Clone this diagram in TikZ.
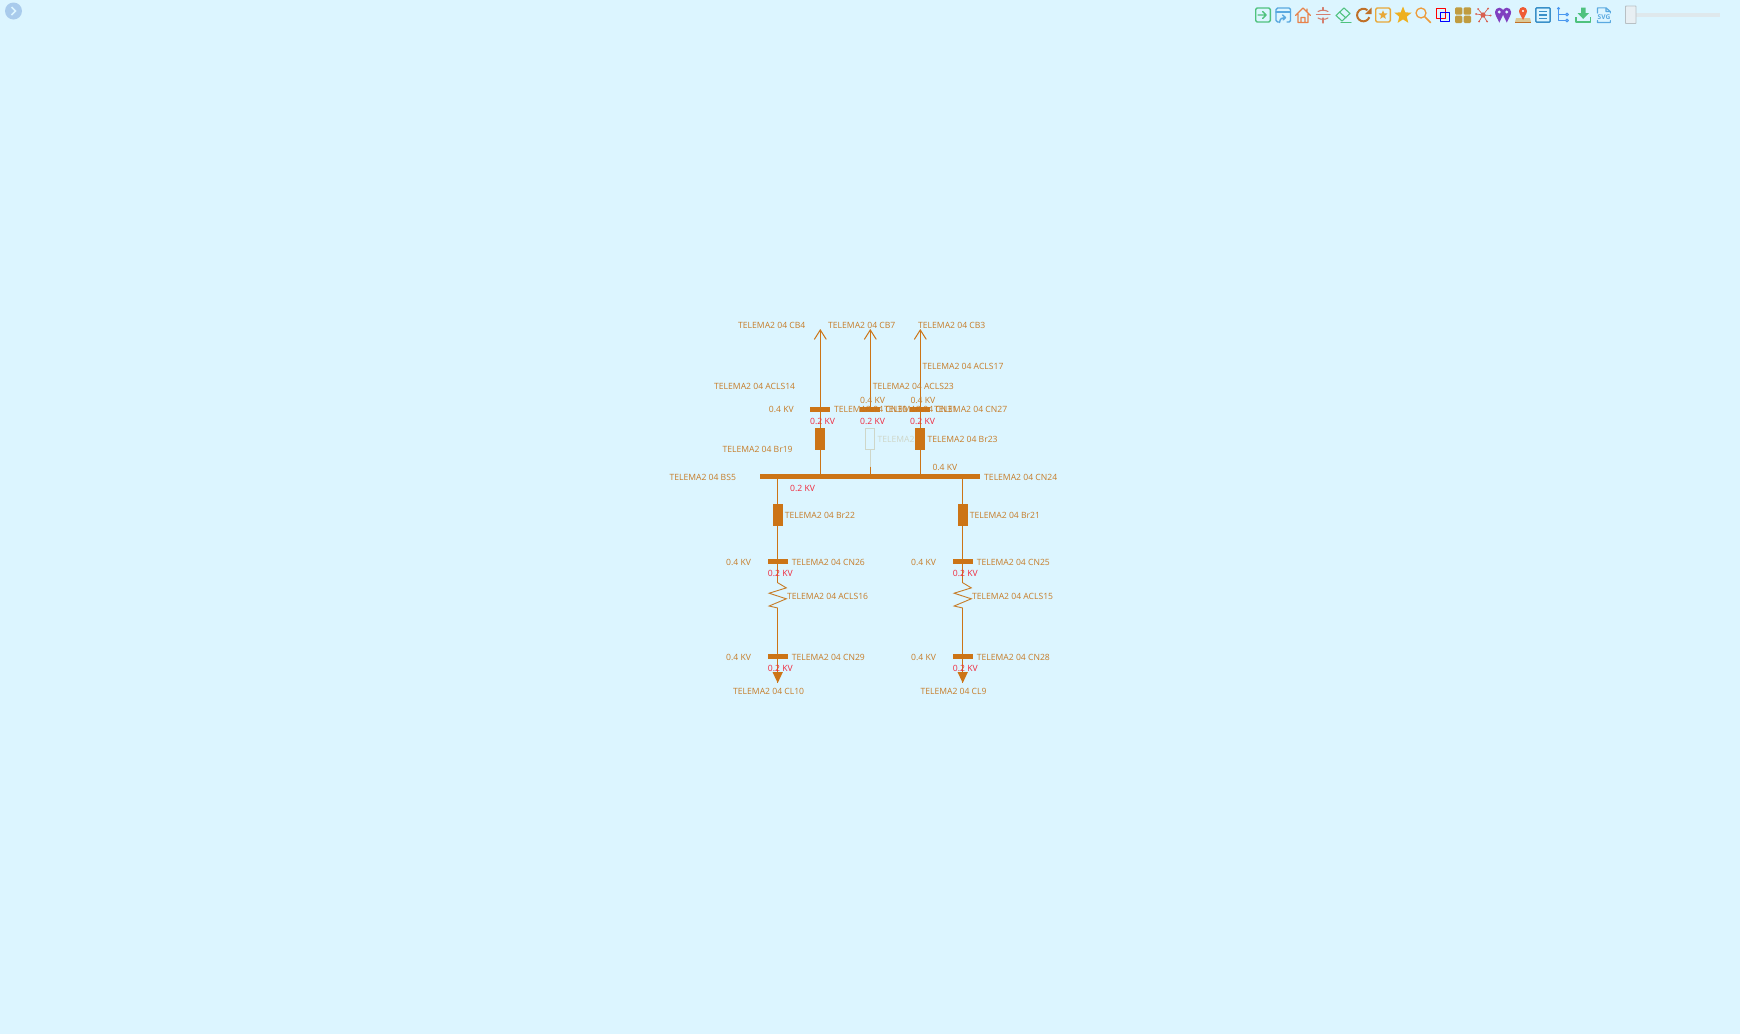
\documentclass[tikz,border=0pt]{standalone}
\usepackage{fontspec}
\setmainfont{Open Sans}
\usetikzlibrary{arrows.meta,shapes.geometric}
\definecolor{bgc}{HTML}{DCF5FF}
\definecolor{eq}{HTML}{CC7416}
\definecolor{lab}{HTML}{C67C28}
\definecolor{volt}{HTML}{F0283C}
\definecolor{pale}{HTML}{CFD6C8}
\definecolor{igreen}{HTML}{4FC27E}
\definecolor{iblue}{HTML}{5AA9E0}
\definecolor{iorange}{HTML}{E8824A}
\definecolor{ipink}{HTML}{D47F70}
\definecolor{ibrown}{HTML}{C07028}
\definecolor{iamber}{HTML}{E8A838}
\definecolor{igold}{HTML}{EEB020}
\definecolor{igrid}{HTML}{C09C40}
\definecolor{ired}{HTML}{D86050}
\definecolor{ipurple}{HTML}{8040C0}
\definecolor{idblue}{HTML}{3A90C8}
\definecolor{itree}{HTML}{4A98F0}
\definecolor{btn}{HTML}{A9CBEC}
\definecolor{track}{HTML}{DFE8EC}
\definecolor{knob}{HTML}{E8EFF3}
\definecolor{knobline}{HTML}{B8C0C4}
\tikzset{
  x=1pt,y=-1pt,
  txt/.style={inner sep=0pt,anchor=west,yshift=-.4pt,font=\fontsize{8.6}{11}\selectfont,text=lab},
  kv/.style={txt},
  redkv/.style={txt,text=volt},
  feeder/.style={draw=eq,line width=1.2pt},
  barnode/.style={fill=eq,inner sep=0pt,minimum width=20pt,minimum height=4.8pt},
  brk/.style={fill=eq,inner sep=0pt,minimum width=10pt,minimum height=22pt},
  ico/.style={line width=1.4pt,line cap=round,line join=round},
}
\newcommand{\lbl}[5][txt]{\node[#1] (#2) at (#3,#4) {#5};}
\begin{document}
\begin{tikzpicture}
\useasboundingbox (0,0) rectangle (1740,1034);
\fill[bgc] (0,0) rectangle (1740,1034);
% expand button
\fill[btn] (13.5,11) circle (8.5);
\draw[bgc,line width=1.6pt] (11.5,7) -- (15.5,11) -- (11.5,15);

% equipment
\node[barnode,minimum width=220pt,minimum height=5pt] (bus) at (870,476.5) {};
\node[barnode] (cnA) at (820.3,409.3) {};
\node[barnode] (cnB) at (870.3,409.3) {};
\node[barnode] (cnC) at (920.3,409.3) {};
\node[brk] (brA) at (820.3,439) {};
\node[draw=pale,line width=.9pt,inner sep=0pt,minimum width=9pt,minimum height=21.5pt] (brB) at (870.3,439) {};
\node[brk] (brC) at (920.3,439) {};
\coordinate (tipA) at (820.3,329);
\coordinate (tipB) at (870.3,329);
\coordinate (tipC) at (920.3,329);
\draw[feeder,-{Straight Barb[length=9.5pt,width=12pt,line width=1pt]}] (cnA) -- (tipA);
\draw[feeder,-{Straight Barb[length=9.5pt,width=12pt,line width=1pt]}] (cnB) -- (tipB);
\draw[feeder,-{Straight Barb[length=9.5pt,width=12pt,line width=1pt]}] (cnC) -- (tipC);
\draw[feeder] (cnA) -- (brA);
\draw[feeder] (cnC) -- (brC);
\draw[feeder] (brA) -- (bus.north -| brA);
\draw[feeder] (brC) -- (bus.north -| brC);
\draw[draw=pale,line width=1.1pt] (brB.south) -- (870.3,466.7) coordinate (fadeB);
\draw[feeder] (fadeB) -- (bus.north -| fadeB);

\node[brk] (brL) at (777.7,515) {};
\node[brk] (brR) at (962.7,515) {};
\node[barnode] (cnL1) at (777.7,561.6) {};
\node[barnode] (cnR1) at (962.7,561.6) {};
\node[barnode] (cnL2) at (777.7,656.6) {};
\node[barnode] (cnR2) at (962.7,656.6) {};
\draw[feeder] (bus.south -| brL) -- (brL);
\draw[feeder] (bus.south -| brR) -- (brR);
\draw[feeder] (brL) -- (cnL1);
\draw[feeder] (brR) -- (cnR1);
\foreach \n/\x in {L/777.7,R/962.7}{
  \coordinate (zt\n) at (\x,582.7);
  \coordinate (zb\n) at (\x,608);
  \coordinate (tri\n) at (\x,683);
  \draw[feeder] (cn\n1) -- (zt\n);
  \draw[draw=lab,line width=.9pt,line join=miter] (zt\n) -- ++(8.6,5.2) -- ++(-17.2,5.3) -- ++(17.2,5.6) -- ++(-17.2,7.2) -- (zb\n);
  \draw[feeder] (zb\n) -- (cn\n2);
  \draw[feeder] (cn\n2) -- (tri\n);
  \fill[eq] (tri\n) -- ++(-5.2,-11) -- ++(10.4,0) -- cycle;
}

% labels
\lbl{lCBa}{738}{325}{TELEMA2 04 CB4}
\lbl{lCBb}{828}{325}{TELEMA2 04 CB7}
\lbl{lCBc}{918}{325}{TELEMA2 04 CB3}
\lbl{lAc}{922.3}{365.7}{TELEMA2 04 ACLS17}
\lbl{lAa}{714}{385.7}{TELEMA2 04 ACLS14}
\lbl{lAb}{872.7}{385.7}{TELEMA2 04 ACLS23}
\lbl{kAu}{768.7}{409.5}{0.4 KV}
\lbl{kBu}{860}{399.8}{0.4 KV}
\lbl{kCu}{910.3}{399.8}{0.4 KV}
\lbl{lCNa}{834}{409.5}{TELEMA2 04 CN30}
\lbl{lCNb}{884}{409.5}{TELEMA2 04 CN31}
\lbl{lCNc}{934}{409.5}{TELEMA2 04 CN27}
\lbl[redkv]{kAd}{810}{420.7}{0.2 KV}
\lbl[redkv]{kBd}{860}{420.7}{0.2 KV}
\lbl[redkv]{kCd}{910}{420.7}{0.2 KV}
\lbl{lBa}{722.3}{448.8}{TELEMA2 04 Br19}
\lbl[txt,text=pale]{lBb}{877.3}{438.7}{TELEMA2}
\lbl{lBc}{927.3}{438.7}{TELEMA2 04 Br23}
\lbl{kBus}{932.3}{466.7}{0.4 KV}
\lbl{lBS}{669.3}{476.7}{TELEMA2 04 BS5}
\lbl{lCNbus}{984}{476.7}{TELEMA2 04 CN24}
\lbl[redkv]{kBusd}{790}{487.7}{0.2 KV}
\lbl{lBL}{784.7}{514.7}{TELEMA2 04 Br22}
\lbl{lBR}{969.7}{514.7}{TELEMA2 04 Br21}
\lbl{kL1}{726}{561.7}{0.4 KV}
\lbl{kR1}{911}{561.7}{0.4 KV}
\lbl{lL1}{791.7}{561.7}{TELEMA2 04 CN26}
\lbl{lR1}{976.7}{561.7}{TELEMA2 04 CN25}
\lbl[redkv]{kL1d}{767.7}{572.7}{0.2 KV}
\lbl[redkv]{kR1d}{952.7}{572.7}{0.2 KV}
\lbl{lZL}{787}{595.6}{TELEMA2 04 ACLS16}
\lbl{lZR}{972}{595.6}{TELEMA2 04 ACLS15}
\lbl{kL2}{726}{656.7}{0.4 KV}
\lbl{kR2}{911}{656.7}{0.4 KV}
\lbl{lL2}{791.7}{656.7}{TELEMA2 04 CN29}
\lbl{lR2}{976.7}{656.7}{TELEMA2 04 CN28}
\lbl[redkv]{kL2d}{767.7}{667.7}{0.2 KV}
\lbl[redkv]{kR2d}{952.7}{667.7}{0.2 KV}
\lbl{lCL}{733}{690.8}{TELEMA2 04 CL10}
\lbl{lCR}{920.3}{690.8}{TELEMA2 04 CL9}

% toolbar
\begin{scope}[ico]
% 1 exit
\draw[igreen,rounded corners=1.5pt] (1255.7,8) rectangle (1270.3,22);
\draw[igreen] (1258,15) -- (1266,15) (1262.5,11.5) -- (1266,15) -- (1262.5,18.5);
% 2 window upload
\draw[iblue,rounded corners=1.5pt] (1279,22) -- (1276,22) -- (1276,8) -- (1290.5,8) -- (1290.5,22) -- (1287,22);
\draw[iblue] (1276,12) -- (1290.5,12);
\draw[iblue] (1279.5,22.5) .. controls (1280,18.5) and (1282,17.5) .. (1285,17.5) (1282.5,15) -- (1285.5,17.5) -- (1283,20);
% 3 home
\draw[iorange,line width=1.1pt] (1295.5,15.5) -- (1303,8) -- (1310.5,15.5) (1298,14) -- (1298,22.5) -- (1308,22.5) -- (1308,14) (1301,22.5) -- (1301,17.5) -- (1305,17.5) -- (1305,22.5) (1307,9) -- (1307,11.5);
% 4 split
\draw[ipink,line width=1.1pt] (1323,7.5) -- (1323,10.5) (1323,18) -- (1323,23) (1316.5,14.5) -- (1330,14.5);
\draw[ipink,line width=1.1pt] (1318,11.5) .. controls (1321,9.8) and (1325,9.8) .. (1328,11.5);
\draw[ipink,line width=1.1pt] (1318,18) .. controls (1321,19.8) and (1325,19.8) .. (1328,18);
% 5 eraser
\draw[igreen,line width=1.1pt] (1336,15.5) -- (1344,8) -- (1350,13.5) -- (1342,21) -- cycle (1339.5,12) -- (1346,18);
\draw[igreen,line width=1.1pt] (1341,22.3) -- (1351,22.3);
% 6 refresh
\draw[ibrown,line width=2pt,line cap=butt] (1369.3,17.2) arc[start angle=20,end angle=310,radius=6.3];
\fill[ibrown] (1371.5,7.5) -- (1371.5,14) -- (1365,14) -- cycle;
% 7 star box
\draw[iamber,rounded corners=1.5pt] (1375.7,8) rectangle (1390.3,22);
\node[star,star points=5,star point ratio=2.3,fill=iamber,inner sep=0pt,minimum size=9.5pt] (icoStarA) at (1383,15) {};
% 8 star
\node[star,star points=5,star point ratio=2.3,fill=igold,inner sep=0pt,minimum size=18pt] (icoStarB) at (1403,15.5) {};
% 9 search
\draw[iorange!80!yellow,line width=1.3pt] (1421,13) circle (5);
\draw[iorange!80!yellow,line width=1.6pt] (1425,17) -- (1430.5,22.5);
% 10 squares
\draw[red,line width=1pt,line cap=butt] (1436.5,8.5) rectangle (1445.5,18.5);
\draw[blue,line width=1pt,line cap=butt] (1440.5,12) rectangle (1449.8,21.5);
% 11 grid
\fill[igrid,rounded corners=1.2pt] (1455,7.3) rectangle (1462.3,14.7);
\fill[igrid,rounded corners=1.2pt] (1463.7,7.3) rectangle (1471,14.7);
\fill[igrid,rounded corners=1.2pt] (1455,15.7) rectangle (1462.3,23);
\fill[igrid,rounded corners=1.2pt] (1463.7,15.7) rectangle (1471,23);
% 12 network
\draw[ired,line width=.7pt] (1483,15) -- (1476,14) (1483,15) -- (1478,9) (1483,15) -- (1488,8.5) (1483,15) -- (1490.5,15.5) (1483,15) -- (1479,21.5) (1483,15) -- (1487,21.5);
\fill[ired] (1483,15) circle (2.6) (1476,14) circle (1) (1478,9) circle (1) (1488,8.5) circle (1) (1490.5,15.5) circle (1) (1479,21.5) circle (1) (1487,21.5) circle (1);
% 13 pins
\foreach \x in {1499.3,1506.8}{
  \fill[ipurple] (\x,22.7) .. controls (\x-1.5,18.5) and (\x-4.3,15.5) .. (\x-4.3,12) arc[start angle=180,end angle=360,radius=4.3] .. controls (\x+4.3,15.5) and (\x+1.5,18.5) .. (\x,22.7) -- cycle;
  \fill[bgc] (\x,12) circle (1.6);
}
% 14 map
\fill[igrid!55!white] (1516,18) -- (1530,18) -- (1531,22) -- (1515,22) -- cycle;
\draw[ibrown,line width=.9pt,line cap=butt] (1515,22.5) -- (1531,22.5);
\fill[iorange!70!red] (1523,20) .. controls (1522,16.5) and (1519,14) .. (1519,11) arc[start angle=180,end angle=360,radius=4] .. controls (1527,14) and (1524,16.5) .. (1523,20) -- cycle;
\fill[white] (1523,11) circle (1.2);
% 15 list
\draw[idblue,line width=1.5pt,rounded corners=1pt] (1535.8,7.8) rectangle (1550.2,22.2);
\draw[idblue,line width=1.2pt,line cap=butt] (1539,11.5) -- (1547,11.5) (1539,15) -- (1547,15) (1539,18.5) -- (1547,18.5);
% 16 tree
\draw[itree,line width=1.1pt] (1558.5,9.5) -- (1558.5,20.5) -- (1565.5,20.5) (1558.5,14.5) -- (1565.5,14.5);
\fill[itree] (1558.5,8.5) circle (1.6);
\draw[itree,line width=1pt] (1567,14.5) circle (1.4) (1567,20.5) circle (1.4);
% 17 download
\draw[igreen,line width=1.8pt,line cap=butt] (1576,17) -- (1576,22) -- (1590.5,22) -- (1590.5,17);
\fill[igreen] (1581,7.5) rectangle (1585.5,13) (1577.5,13) -- (1589,13) -- (1583.2,19) -- cycle;
% 18 svg
\draw[iblue,line width=1.1pt] (1597.5,13) -- (1597.5,7.8) -- (1606,7.8) -- (1610.3,11.5) -- (1610.3,13) (1597.5,20.5) -- (1597.5,22.5) -- (1610.3,22.5) -- (1610.3,20.5) (1606,7.8) -- (1606,11.5) -- (1610.3,11.5);
\node[inner sep=0pt,font=\fontsize{6.6}{7}\selectfont\bfseries,text=iblue] (icoSvg) at (1604,16.8) {SVG};
\end{scope}
% slider
\fill[track] (1636,13) rectangle (1720,16.7);
\draw[draw=knobline,fill=knob,line width=.9pt,rounded corners=.6pt] (1625.5,6) rectangle (1636,23.5);
\end{tikzpicture}
\end{document}
